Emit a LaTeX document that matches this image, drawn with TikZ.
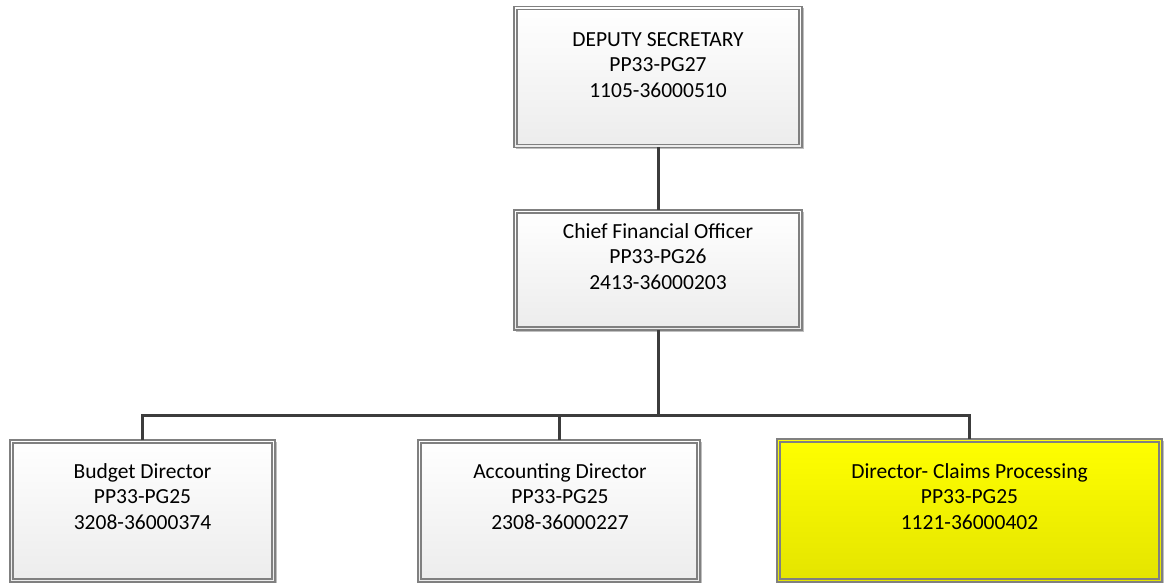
\documentclass[tikz,border=0pt]{standalone}
\usepackage{fontspec}
\setmainfont{Carlito}
\usetikzlibrary{shadows}
\definecolor{frame}{RGB}{128,128,128}
\definecolor{wire}{RGB}{60,60,60}
\definecolor{greybot}{RGB}{236,236,236}
\definecolor{yellowtop}{RGB}{255,255,0}
\definecolor{yellowbot}{RGB}{228,228,0}
\tikzset{
  orgbox/.style={draw=frame, line width=1.3pt, rectangle, inner sep=0pt, outer sep=0pt,
    top color=white, bottom color=greybot,
    drop shadow={shadow xshift=2pt, shadow yshift=-2pt, opacity=0.25, fill=black}},
  hilite/.style={top color=yellowtop, bottom color=yellowbot},
  innerframe/.style={draw=frame, line width=1.1pt},
  caption/.style={align=center, font=\fontsize{21.5pt}{25.5pt}\selectfont, text=black, inner sep=0pt},
  conn/.style={draw=wire, line width=3pt},
}
\newcommand{\innerline}[1]{\draw[innerframe] ([shift={(3pt,-3pt)}]#1.north west) rectangle ([shift={(-3pt,3pt)}]#1.south east);}
\begin{document}
\begin{tikzpicture}[x=1pt,y=-1pt]
\useasboundingbox (0,0) rectangle (1165,583);

% junction point of the lower branch
\coordinate (bus) at (658,415);

% boxes
\node[orgbox, minimum width=288pt, minimum height=141pt] (dep) at (658,77) {};
\node[orgbox, minimum width=288pt, minimum height=120pt] (cfo) at (658,270) {};
\node[orgbox, minimum width=265pt, minimum height=142pt] (bud) at (142.5,511) {};
\node[orgbox, minimum width=282pt, minimum height=142pt] (acc) at (559,511) {};
\node[orgbox, hilite, minimum width=385pt, minimum height=143pt] (clm) at (969.5,510.5) {};

\innerline{dep}
\innerline{cfo}
\innerline{bud}
\innerline{acc}
\innerline{clm}

% connectors
\draw[conn] (dep.south) -- (cfo.north);
\draw[conn] (cfo.south) -- (bus);
\draw[conn] (bud.north) |- (bus) -| (clm.north);
\draw[conn] (acc.north) -- (acc.north |- bus);

% texts
\node[caption] (tdep) at (658,65) {DEPUTY SECRETARY\\PP33-PG27\\1105-36000510};
\node[caption] (tcfo) at (658,256.5) {Chief Financial Officer\\PP33-PG26\\2413-36000203};
\node[caption] (tbud) at (142.5,496.5) {Budget Director\\PP33-PG25\\3208-36000374};
\node[caption] (tacc) at (560,496.5) {Accounting Director\\PP33-PG25\\2308-36000227};
\node[caption] (tclm) at (969.5,496.5) {Director- Claims Processing\\PP33-PG25\\1121-36000402};
\end{tikzpicture}
\end{document}
